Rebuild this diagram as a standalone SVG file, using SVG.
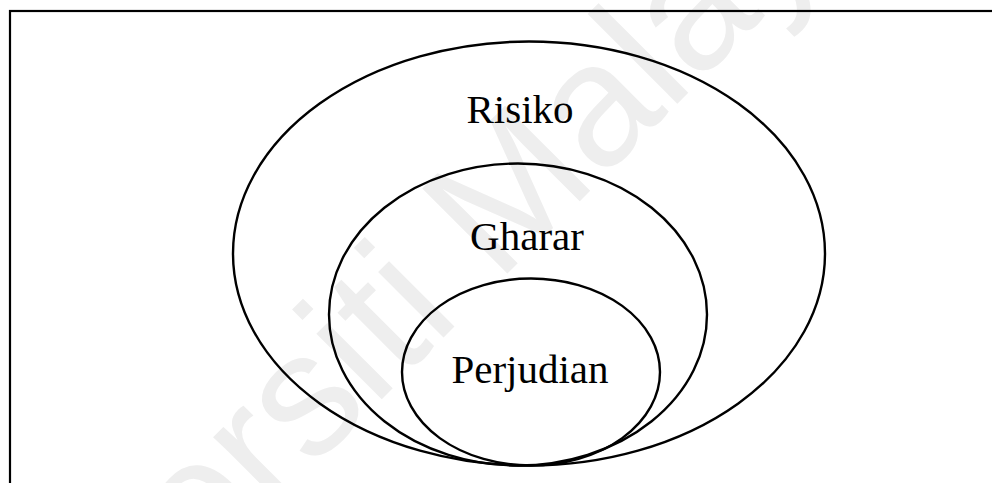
<svg xmlns="http://www.w3.org/2000/svg" width="992" height="483" viewBox="0 0 992 483">
  <style>
    .ring { fill: none; stroke: #000; stroke-width: 2.4; }
    .lbl { font-family: "Liberation Serif", "Times New Roman", serif; font-size: 41px; fill: #000; text-anchor: middle; }
    .wm { font-family: "Liberation Sans", Arial, sans-serif; font-size: 175px; fill: #eeeeee; text-anchor: middle; }
  </style>
  <rect x="0" y="0" width="992" height="483" fill="#fff"/>
  <g id="watermark">
    <text class="wm" transform="translate(425,356) rotate(-45)">Universiti Malaya</text>
  </g>
  <rect id="frame" x="10" y="11" width="1000" height="500" fill="none" stroke="#000" stroke-width="2.2"/>
  <g id="risiko">
    <ellipse class="ring" cx="529" cy="253.5" rx="296" ry="212"/>
    <text class="lbl" x="520" y="123">Risiko</text>
  </g>
  <g id="gharar">
    <ellipse class="ring" cx="518" cy="314.5" rx="189" ry="151"/>
    <text class="lbl" x="527" y="250">Gharar</text>
  </g>
  <g id="perjudian">
    <ellipse class="ring" cx="531" cy="372" rx="129" ry="93.5"/>
    <text class="lbl" x="530" y="383">Perjudian</text>
  </g>
  <g id="connectors"/>
</svg>
